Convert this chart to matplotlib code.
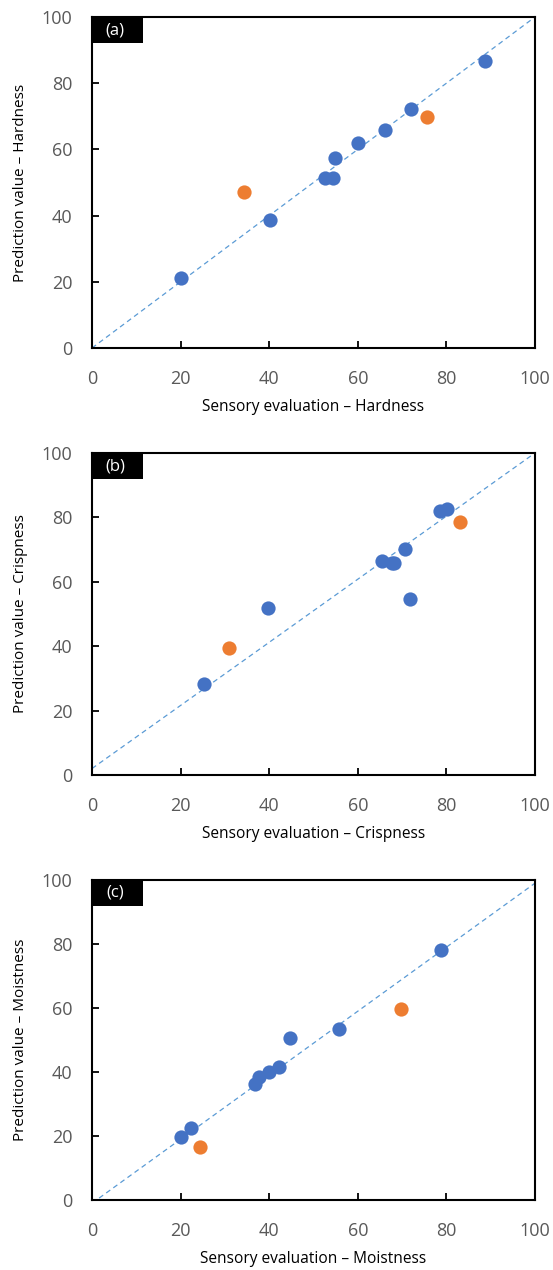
import numpy as np
import matplotlib.pyplot as plt
from matplotlib.patches import Rectangle

plt.rcParams['font.family'] = ['Open Sans', 'DejaVu Sans']

# (a) hardness
hard_x = [20.1, 40.2, 52.6, 54.4, 54.9, 60.0, 66.1, 72.0, 88.7]
hard_y = [21.1, 38.7, 51.4, 51.4, 57.4, 61.9, 65.9, 72.2, 86.7]
hard_ox = [34.3, 75.6]
hard_oy = [47.1, 69.8]

# (b) crispness
cri_x = [25.3, 39.7, 65.5, 67.7, 68.2, 70.7, 71.8, 78.6, 80.1]
cri_y = [28.3, 52.0, 66.5, 65.8, 65.8, 70.2, 54.7, 82.0, 82.6]
cri_ox = [30.9, 83.1]
cri_oy = [39.4, 78.6]

# (c) moistness
moi_x = [20.2, 22.3, 36.9, 37.6, 40.0, 42.1, 44.8, 55.7, 78.8]
moi_y = [19.8, 22.4, 36.3, 38.3, 40.1, 41.7, 50.7, 53.4, 78.2]
moi_ox = [24.4, 69.8]
moi_oy = [16.7, 59.6]

# dashed reference lines (x ends, y ends)
line_x = [0, 100]
lines_y = [[0, 100], [2, 100], [-1, 99]]

panels = [
    ('(a)', 'Hardness', hard_x, hard_y, hard_ox, hard_oy),
    ('(b)', 'Crispness', cri_x, cri_y, cri_ox, cri_oy),
    ('(c)', 'Moistness', moi_x, moi_y, moi_ox, moi_oy),
]
bottoms = [0.726, 0.3898, 0.0551]
heights = [0.2606, 0.2535, 0.252]

fig = plt.figure(figsize=(5.53, 12.7), dpi=100)
for i, (tag, name, bx, by, ox, oy) in enumerate(panels):
    ax = fig.add_axes([0.1664, bottoms[i], 0.801, heights[i]])
    ax.plot(line_x, lines_y[i], linestyle=(0, (4, 3)), color='#5B9BD5', lw=0.9, zorder=1)
    ax.scatter(bx, by, s=105, color='#4472C4', zorder=3, linewidths=0)
    ax.scatter(ox, oy, s=105, color='#ED7D31', zorder=3, linewidths=0)
    ax.set_xlim(0, 100)
    ax.set_ylim(0, 100)
    ax.set_xticks(np.arange(0, 101, 20))
    ax.set_yticks(np.arange(0, 101, 20))
    ax.tick_params(direction='in', length=5, width=1.3, labelsize=13,
                   labelcolor='#595959', top=False, right=False)
    ax.tick_params(axis='x', pad=16)
    ax.tick_params(axis='y', pad=14)
    for s in ax.spines.values():
        s.set_linewidth(1.5)
        s.set_color('black')
    ax.set_xlabel('Sensory evaluation – ' + name, fontsize=11.2, labelpad=8)
    ax.set_ylabel('Prediction value – ' + name, fontsize=11, labelpad=10)
    # black tag box in the top-left corner
    bw = 51 / 443
    bh = 26 / (heights[i] * 1270)
    ax.add_patch(Rectangle((0, 1 - bh), bw, bh, transform=ax.transAxes,
                           facecolor='black', edgecolor='none', zorder=4, clip_on=False))
    ax.text(bw * 0.45, 1 - bh / 2, tag, transform=ax.transAxes, ha='center', va='center',
            color='white', fontsize=12, zorder=5)

plt.savefig('out.png', dpi=100)
